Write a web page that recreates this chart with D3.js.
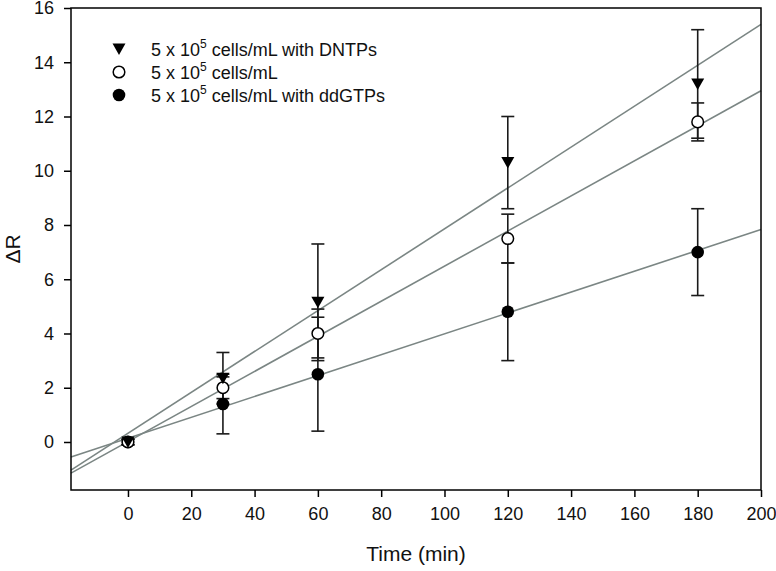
<!DOCTYPE html>
<html><head><meta charset="utf-8">
<script src="https://cdn.jsdelivr.net/npm/d3@7"></script>
<style>body{margin:0;background:#fff}svg{display:block}text{font-family:"Liberation Sans",Arial,sans-serif;fill:#111}</style>
</head><body>
<script>
const times = [0, 30, 60, 120, 180];
const seriesNames = ["5 x 10|5| cells/mL with DNTPs", "5 x 10|5| cells/mL", "5 x 10|5| cells/mL with ddGTPs"];
const seriesSymbols = ["triangleDown", "openCircle", "filledCircle"];
const dntpValues = [0, 2.35, 5.15, 10.3, 13.2];
const dntpErrors = [0.1, 0.95, 2.15, 1.7, 2.0];
const cellValues = [0, 2.0, 4.0, 7.5, 11.8];
const cellErrors = [0.1, 0.4, 0.9, 0.9, 0.7];
const ddgtpValues = [0, 1.4, 2.5, 4.8, 7.0];
const ddgtpErrors = [0.1, 1.1, 2.1, 1.8, 1.6];
const xTicks = [0, 20, 40, 60, 80, 100, 120, 140, 160, 180, 200];
const yTicks = [0, 2, 4, 6, 8, 10, 12, 14, 16];
const xDomain = [-18, 200];
const yDomain = [-1.77, 16];

const W = 776, H = 571;
const m = {l: 71, r: 15, t: 8, b: 81};
const svg = d3.select("body").append("svg").attr("width", W).attr("height", H);
const x = d3.scaleLinear().domain(xDomain).range([m.l, W - m.r]);
const y = d3.scaleLinear().domain(yDomain).range([H - m.b, m.t]);

const series = [
  {vals: dntpValues, errs: dntpErrors, sym: seriesSymbols[0], name: seriesNames[0]},
  {vals: cellValues, errs: cellErrors, sym: seriesSymbols[1], name: seriesNames[1]},
  {vals: ddgtpValues, errs: ddgtpErrors, sym: seriesSymbols[2], name: seriesNames[2]}
];

// linear regression fit lines
function fit(vals) {
  const mx = d3.mean(times), my = d3.mean(vals);
  let sxy = 0, sxx = 0;
  times.forEach((t, i) => { sxy += (t - mx) * (vals[i] - my); sxx += (t - mx) * (t - mx); });
  const b = sxy / sxx; return {b, a: my - b * mx};
}
const gLines = svg.append("g");
series.forEach(s => {
  const f = fit(s.vals);
  gLines.append("line")
    .attr("x1", x(xDomain[0])).attr("y1", y(f.a + f.b * xDomain[0]))
    .attr("x2", x(xDomain[1])).attr("y2", y(f.a + f.b * xDomain[1]))
    .attr("stroke", "#7b8684").attr("stroke-width", 1.6);
});

// error bars
const gErr = svg.append("g").attr("stroke", "#1a1a1a").attr("stroke-width", 1.6);
series.forEach(s => {
  times.forEach((t, i) => {
    const cx = x(t), hi = y(s.vals[i] + s.errs[i]), lo = y(s.vals[i] - s.errs[i]);
    gErr.append("line").attr("x1", cx).attr("x2", cx).attr("y1", hi).attr("y2", lo);
    gErr.append("line").attr("x1", cx - 6.5).attr("x2", cx + 6.5).attr("y1", hi).attr("y2", hi);
    gErr.append("line").attr("x1", cx - 6.5).attr("x2", cx + 6.5).attr("y1", lo).attr("y2", lo);
  });
});

function drawSym(g, sym, cx, cy) {
  if (sym === "triangleDown") {
    g.append("path").attr("d", `M${cx-6.5},${cy-5.5}L${cx+6.5},${cy-5.5}L${cx},${cy+6}Z`).attr("fill", "#000");
  } else if (sym === "openCircle") {
    g.append("circle").attr("cx", cx).attr("cy", cy).attr("r", 5.8).attr("fill", "#fff").attr("stroke", "#000").attr("stroke-width", 1.5);
  } else {
    g.append("circle").attr("cx", cx).attr("cy", cy).attr("r", 6.3).attr("fill", "#000");
  }
}
const gPts = svg.append("g");
[2, 1, 0].forEach(k => {
  const s = series[k];
  times.forEach((t, i) => drawSym(gPts, s.sym, x(t), y(s.vals[i])));
});

// axes
const xAxis = d3.axisBottom(x).tickValues(xTicks).tickSize(7).tickPadding(10).tickFormat(d3.format("d"));
const yAxis = d3.axisLeft(y).tickValues(yTicks).tickSize(7).tickPadding(10).tickFormat(d3.format("d"));
const gx = svg.append("g").attr("transform", `translate(0,${H - m.b})`).call(xAxis);
const gy = svg.append("g").attr("transform", `translate(${m.l},0)`).call(yAxis);
[gx, gy].forEach(g => {
  g.select(".domain").remove();
  g.selectAll(".tick line").attr("stroke", "#000").attr("stroke-width", 1.5);
  g.selectAll(".tick text").attr("font-size", 18).style("font-family", '"Liberation Sans",Arial,sans-serif').attr("fill", "#111");
});
svg.append("rect").attr("x", m.l).attr("y", m.t).attr("width", W - m.r - m.l).attr("height", H - m.b - m.t)
  .attr("fill", "none").attr("stroke", "#000").attr("stroke-width", 1.5);

// axis titles
svg.append("text").attr("x", (m.l + W - m.r) / 2).attr("y", 561).attr("text-anchor", "middle").attr("font-size", 21).text("Time (min)");
svg.append("text").attr("transform", `translate(20,${(m.t + H - m.b) / 2}) rotate(-90)`).attr("text-anchor", "middle").attr("font-size", 21).text("ΔR");

// legend
const gLeg = svg.append("g");
series.forEach((s, k) => {
  const cy = 49 + k * 23;
  drawSym(gLeg, s.sym, 119, cy);
  const parts = s.name.split("|");
  const t = gLeg.append("text").attr("x", 151).attr("y", cy + 6.5).attr("font-size", 18);
  t.append("tspan").text(parts[0]);
  t.append("tspan").attr("font-size", 12).attr("dy", -8).text(parts[1]);
  t.append("tspan").attr("dy", 8).text(parts[2]);
});
</script>
</body></html>
